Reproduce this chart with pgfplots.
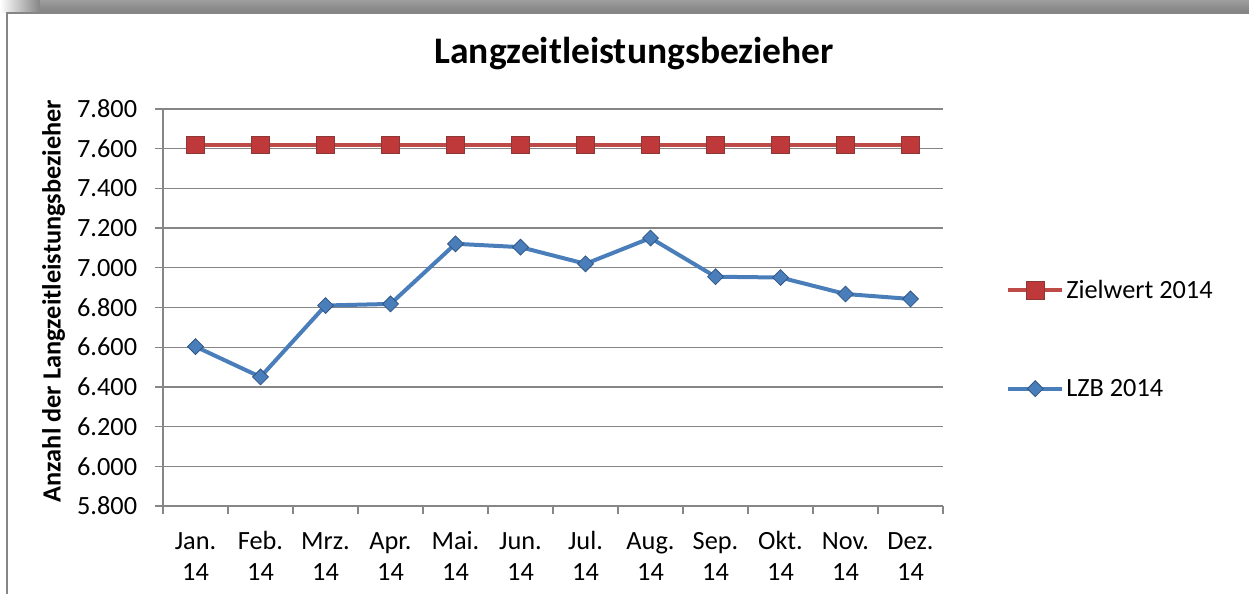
\documentclass[border=0pt]{standalone}
\usepackage{fontspec}
\setmainfont{Carlito}
\usepackage{pgfplots}
\pgfplotsset{compat=1.18}
\definecolor{zred}{HTML}{BE4B48}
\definecolor{zreddark}{HTML}{8C3836}
\definecolor{zfill}{HTML}{C0393A}
\definecolor{lblue}{HTML}{4A7EBB}
\definecolor{lbluedark}{HTML}{2F5584}
\definecolor{gridgray}{HTML}{868686}
\newcommand{\fs}{\fontsize{26.3}{30.3}\selectfont}
\newcommand{\st}{\rule{0pt}{20pt}}
\begin{document}
\begin{tikzpicture}[x=1pt,y=1pt]
\useasboundingbox (0,0) rectangle (1249,594);
\shade[left color=white, right color=black!48] (0,581) rectangle (40,594);
\shade[top color=black!38, bottom color=black!50] (40,581) rectangle (1249,594);
\draw[gridgray, line width=1.5pt] (7,0) -- (7,581) -- (1249,581);
\begin{axis}[
  at={(163pt,88pt)}, anchor=south west,
  scale only axis, width=780pt, height=397pt,
  xmin=-0.5, xmax=11.5, ymin=5800, ymax=7800,
  clip=false,
  axis x line*=bottom, axis y line*=left,
  axis line style={gridgray, line width=1.3pt},
  ytick={5800,6000,...,7800},
  ymajorgrids, grid style={gridgray, line width=1.3pt},
  tick align=outside, major tick length=8pt,
  tick style={gridgray, line width=1.3pt},
  xtick={0,...,11},
  xticklabels={{\st Jan.\\14},{\st Feb.\\14},{\st Mrz.\\14},{\st Apr.\\14},{\st Mai.\\14},{\st Jun.\\14},{\st Jul.\\14},{\st Aug.\\14},{\st Sep.\\14},{\st Okt.\\14},{\st Nov.\\14},{\st Dez.\\14}},
  xtick style={draw=none},
  extra x ticks={-0.5,0.5,...,11.5},
  extra x tick labels={},
  extra x tick style={grid=none, xtick style={draw=gridgray, line width=1.3pt}},
  xticklabel style={align=center, font=\fs, anchor=north, inner sep=0pt, yshift=-15.7pt},
  yticklabel style={font=\fs, anchor=east, inner sep=0pt, xshift=-17.7pt},
  scaled y ticks=false,
  /pgf/number format/.cd, 1000 sep={.}, assume math mode=true, /pgfplots/.cd,
  title={Langzeitleistungsbezieher},
  title style={at={(0.6041,1.0986)}, anchor=base, inner sep=0pt, font=\fontsize{37.5}{44}\selectfont\bfseries},
  ylabel={Anzahl der Langzeitleistungsbezieher},
  ylabel style={at={(axis description cs:-0.1314,0.5164)}, anchor=base, inner sep=0pt, font=\fs\bfseries},
  legend style={at={(1.077,0.420)}, anchor=west, draw=none, fill=none,
    font=\fs, row sep=75pt},
  legend cell align=left,
  legend image code/.code={\draw[mark repeat=2, mark phase=2, #1] plot coordinates {(0pt,0pt)(27pt,0pt)(54pt,0pt)};},
]
\addplot[zred, line width=4pt, mark=square*, mark size=8.8pt,
  mark options={fill=zfill, draw=zreddark, line width=0.8pt}]
  coordinates {(0,7620)(1,7620)(2,7620)(3,7620)(4,7620)(5,7620)(6,7620)(7,7620)(8,7620)(9,7620)(10,7620)(11,7620)};
\addlegendentry{Zielwert 2014}
\addplot[lblue, line width=4pt, mark=square*, mark size=5.6pt,
  mark options={rotate=45, fill=lblue, draw=lbluedark, line width=0.8pt}]
  coordinates {(0,6603)(1,6450)(2,6810)(3,6818)(4,7121)(5,7104)(6,7020)(7,7150)(8,6955)(9,6951)(10,6868)(11,6843)};
\addlegendentry{LZB 2014}
\end{axis}
\end{tikzpicture}
\end{document}
